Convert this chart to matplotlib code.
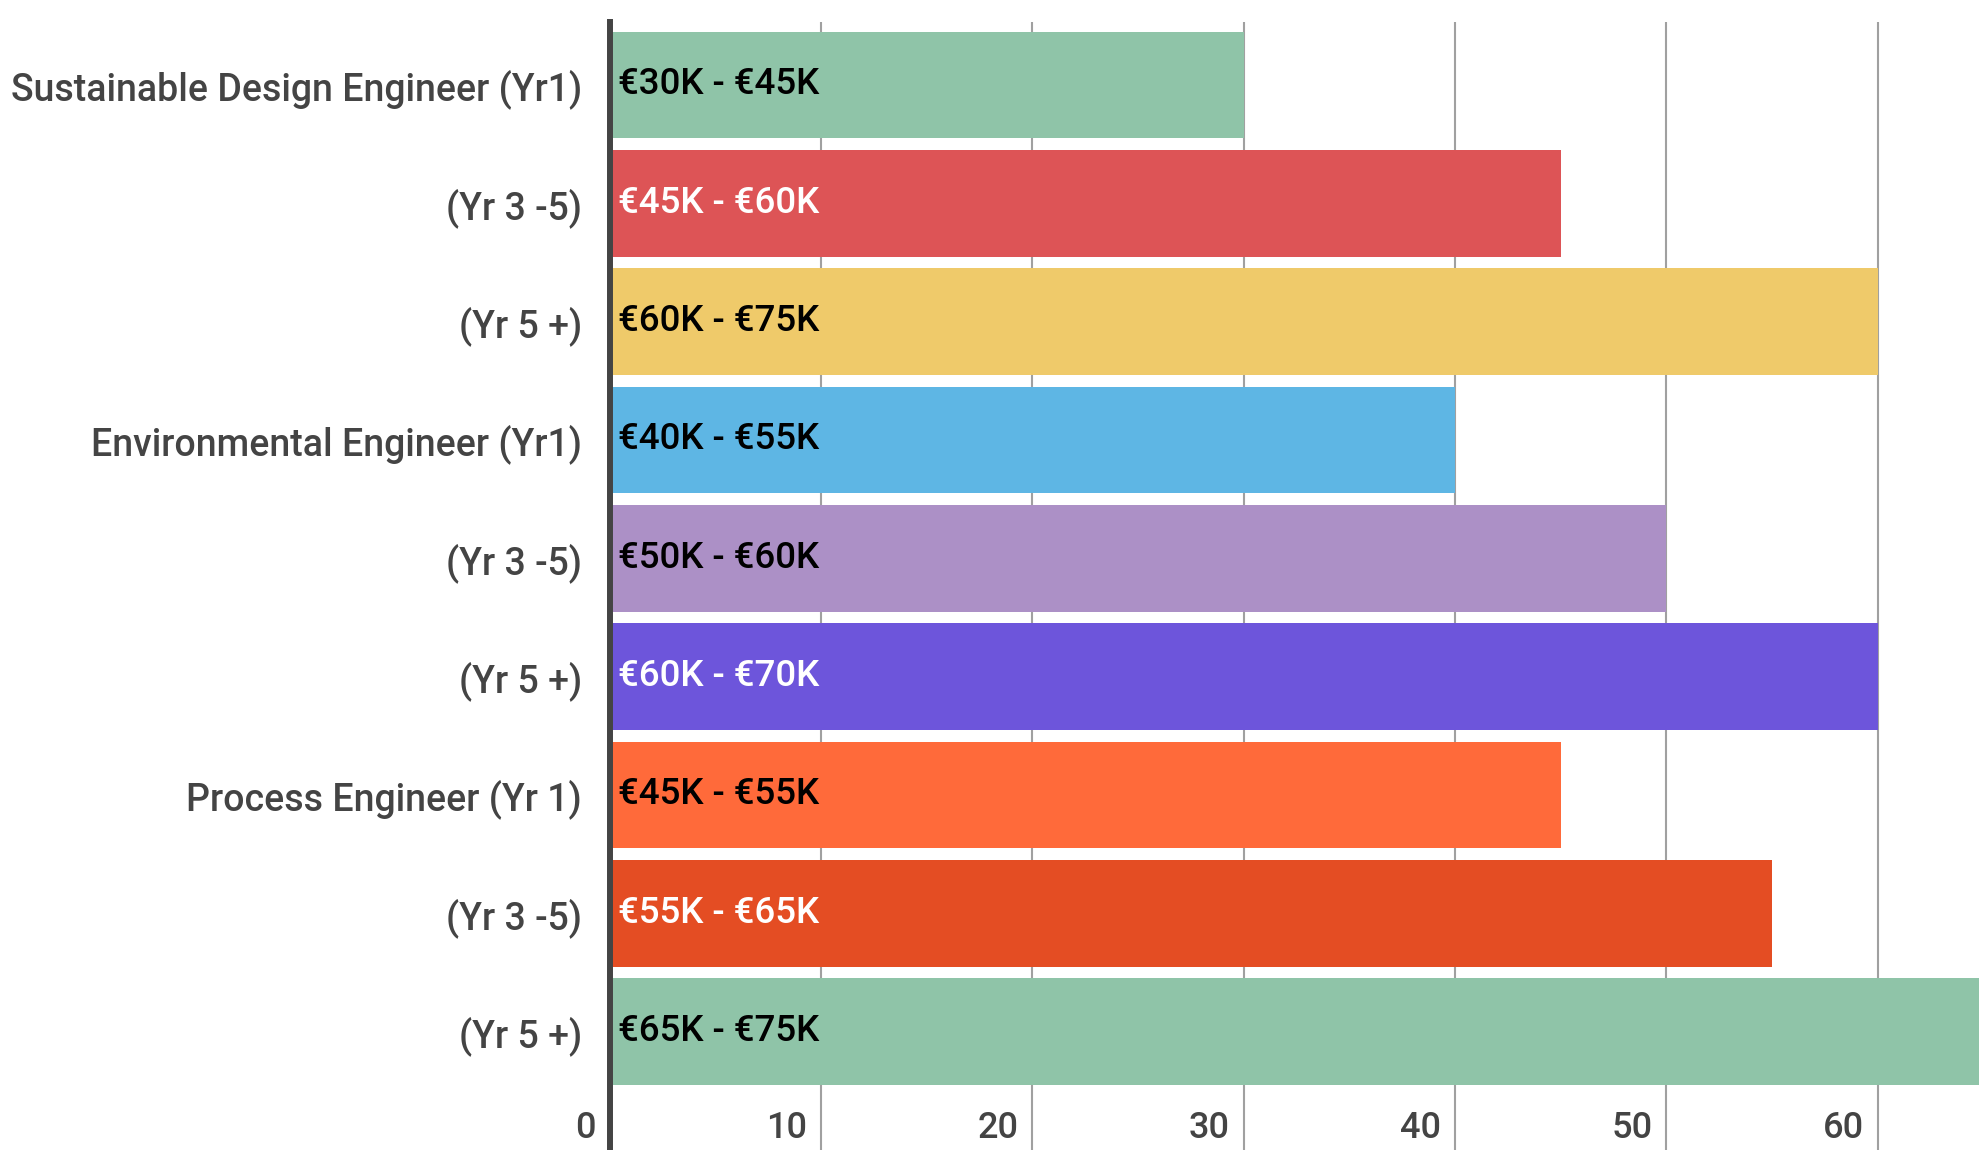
import matplotlib
matplotlib.use('Agg')
import matplotlib.pyplot as plt

plt.rcParams['font.family'] = ['Roboto', 'DejaVu Sans']

roles = ['Sustainable Design Engineer (Yr1)', '(Yr 3 -5)', '(Yr 5 +)',
         'Environmental Engineer (Yr1)', '(Yr 3 -5)', '(Yr 5 +)',
         'Process Engineer (Yr 1)', '(Yr 3 -5)', '(Yr 5 +)']
salary_low = [30, 45, 60, 40, 50, 60, 45, 55, 65]
salary_text = ['€30K - €45K', '€45K - €60K', '€60K - €75K',
               '€40K - €55K', '€50K - €60K', '€60K - €70K',
               '€45K - €55K', '€55K - €65K', '€65K - €75K']
bar_colors = ['#8FC4A8', '#DD5456', '#EFCA6A', '#5EB6E4', '#AC90C6',
              '#6D55DB', '#FF6A3A', '#E44D23', '#8FC4A8']
text_colors = ['black', 'white', 'black', 'black', 'black',
               'white', 'black', 'white', 'black']
xticks = [0, 10, 20, 30, 40, 50, 60]

fig = plt.figure(figsize=(19.79, 11.5), dpi=100)
ax = fig.add_axes([0.3082, 0.0, 1 - 0.3082, 0.9813])

pos = list(range(len(roles)))
ax.barh(pos, salary_low, height=0.9, color=bar_colors, zorder=2)

for p, v, t, c in zip(pos, salary_low, salary_text, text_colors):
    ax.annotate(t, xy=(0, p), xytext=(6, 0), textcoords='offset points',
                ha='left', va='center', fontsize=26.5, fontweight='medium',
                color=c, zorder=3)

ax.set_xlim(0, 64.8)
ax.set_ylim(9.0, -0.536)

ax.set_yticks(pos)
ax.set_yticklabels(roles, fontsize=27, color='#444444', fontweight='medium')
ax.tick_params(axis='y', length=0, pad=20)
ax.set_xticks(xticks[1:])
ax.set_xticklabels([])
ax.tick_params(axis='x', length=0)
ax.grid(axis='x', color='#a0a0a0', linewidth=1.5, zorder=0)
ax.set_axisbelow(True)

for v in xticks:
    ax.annotate(str(v), xy=(v, 8.82), xytext=(-10, 0), textcoords='offset points',
                ha='right', va='center', fontsize=26, color='#444444',
                fontweight='medium')

for s in ['top', 'right', 'bottom']:
    ax.spines[s].set_visible(False)
ax.spines['left'].set_color('#444444')
ax.spines['left'].set_linewidth(4.3)
ax.spines['left'].set_zorder(4)

fig.savefig('out.png', dpi=100)
